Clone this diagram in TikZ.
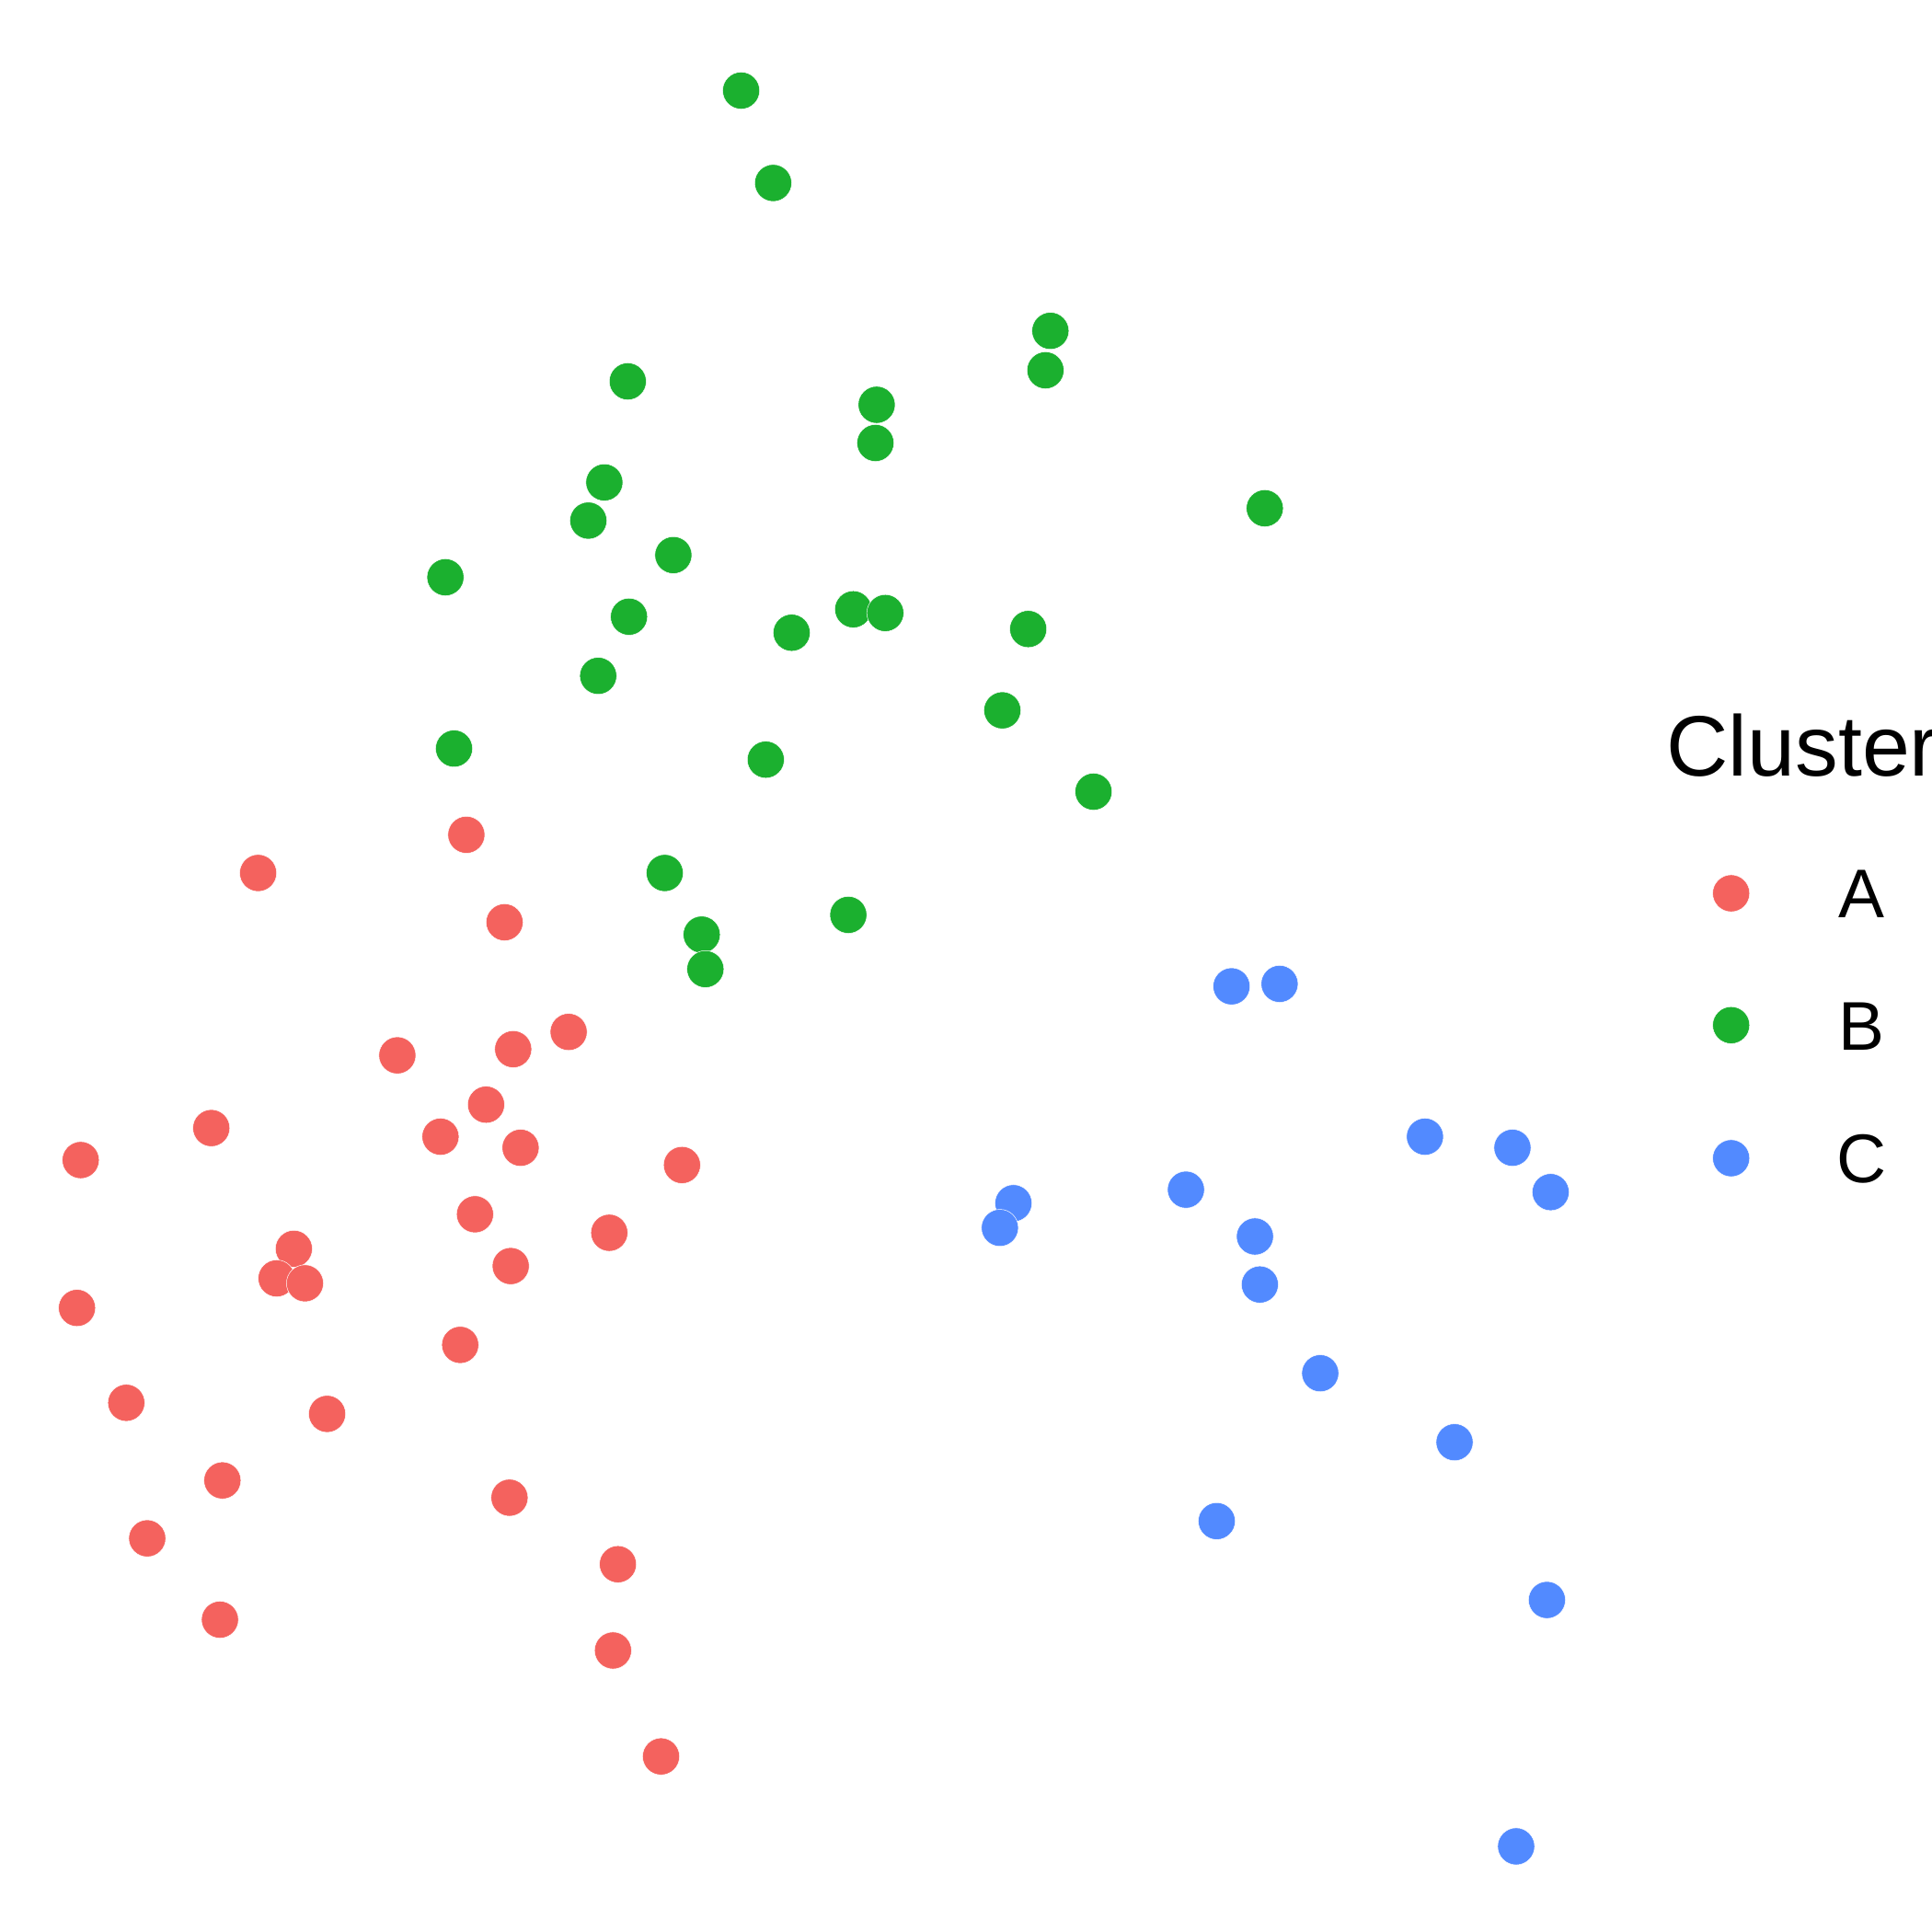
\documentclass[tikz,border=0pt]{standalone}
\usepackage{fontspec}
\setmainfont{Liberation Sans}
\usepackage{tikz}
\usetikzlibrary{positioning}
\definecolor{clusterA}{RGB}{244,98,94}
\definecolor{clusterB}{RGB}{27,176,47}
\definecolor{clusterC}{RGB}{82,138,255}
\tikzstyle{dot} = [circle, draw=white, line width=0.1pt, inner sep=0pt, minimum size=0.3cm]
\tikzstyle{ptA} = [dot, fill=clusterA]
\tikzstyle{ptB} = [dot, fill=clusterB]
\tikzstyle{ptC} = [dot, fill=clusterC]
\tikzstyle{key} = [anchor=base, font=\fontsize{15.9}{18}\selectfont]

\begin{document}
\begin{tikzpicture}[x=0.01cm, y=-0.01cm]
            \useasboundingbox (0,0) rectangle (1568,1568);
            \begin{scope}[shift={(2.5,2.5)}]
            % cluster B
            \foreach \px/\py [count=\i] in {599/71, 625/146, 850/266, 846/298, 507/307, 709/326, 708/357, 488/389, 475/420, 1024/410, 544/448, 359/466, 508/498, 690/492, 716/495, 640/511, 832/508, 483/546, 811/574, 366/605, 619/614, 885/640, 537/706, 686/740, 567/756, 570/784}
                \node [ptB] (b\i) at (\px,\py) {};
            % cluster A
            \foreach \px/\py [count=\i] in {376/675, 207/706, 407/746, 459/835, 320/854, 414/849, 392/894, 169/913, 355/920, 420/929, 63/939, 551/943, 383/983, 492/998, 236/1011, 222/1035, 245/1039, 412/1025, 60/1059, 371/1089, 100/1136, 263/1145, 178/1199, 411/1213, 117/1246, 499/1267, 176/1312, 495/1337, 534/1423}
                \node [ptA] (a\i) at (\px,\py) {};
            % cluster C
            \foreach \px/\py [count=\i] in {997/798, 1036/796, 1154/920, 1225/929, 1256/965, 960/963, 820/974, 809/994, 1016/1001, 1020/1040, 1069/1112, 1178/1168, 985/1232, 1253/1296, 1228/1496}
                \node [ptC] (c\i) at (\px,\py) {};
            \end{scope}

            % legend
            \node (title) [anchor=base west, inner sep=0pt, font=\fontsize{19.8}{22}\selectfont] at (1352,630) {Cluster};
            \node [ptA] (keyA) at (1405,725) {};
            \node [ptB] (keyB) at (1405,832) {};
            \node [ptC] (keyC) at (1405,940) {};
            \node (labA) [key, inner sep=0pt] at (1511,745) {A};
            \node (labB) [key, inner sep=0pt] at (1511,852) {B};
            \node (labC) [key, inner sep=0pt] at (1511,960) {C};
        \end{tikzpicture}
\end{document}
